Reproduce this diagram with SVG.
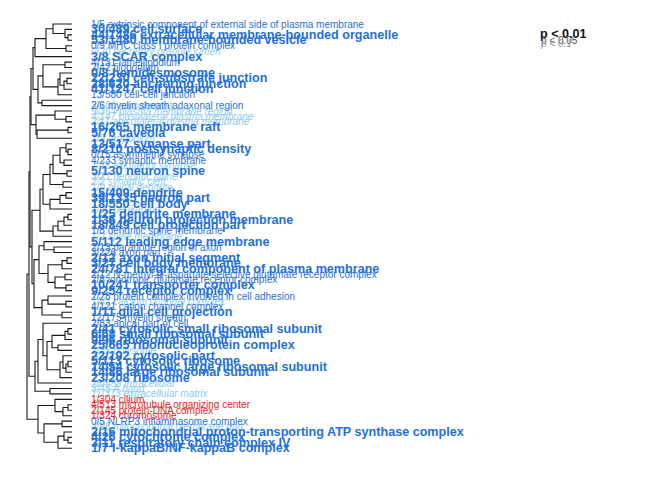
<svg xmlns="http://www.w3.org/2000/svg" width="672" height="480" viewBox="0 0 672 480">
<style>
text{font-family:"Liberation Sans",Arial,Helvetica,sans-serif;dominant-baseline:central}
.b{font-size:12.6px;font-weight:bold;fill:#1f70dc}
.r{font-size:10px;fill:#2c6fd8}
.i{font-size:10px;font-style:italic;fill:#8ccbee}
.red{font-size:10px;fill:#f0222a}
.lg1{font-size:12.6px;font-weight:bold;fill:#111;dominant-baseline:auto}
.lg2{font-size:10px;fill:#555;dominant-baseline:auto}
.lg3{font-size:10px;font-style:italic;fill:#999;dominant-baseline:auto}
#connectors path{fill:none;stroke:#1a1a1a;stroke-width:1.1}
</style>
<rect width="672" height="480" fill="#fff"/>
<g id="connectors">
<path d="M72 34.9H68V40.3H72"/>
<path d="M72 29.4H65V37.6H68"/>
<path d="M72 24H53V33.5H65"/>
<path d="M72 45.8H66V51.2H72"/>
<path d="M53 28.75H46V48.5H66"/>
<path d="M46 38.6H35V56.6H72"/>
<path d="M72 62.1H65V67.5H72"/>
<path d="M72 78.4H67V83.8H72"/>
<path d="M67 81.1H64V89.3H72"/>
<path d="M72 73H60V85.2H64"/>
<path d="M60 79.1H58V94.7H72"/>
<path d="M65 64.8H43V86.9H58"/>
<path d="M72 100.2H42V105.6H72"/>
<path d="M43 75.85H38V102.9H42"/>
<path d="M72 116.5H66V121.9H72"/>
<path d="M72 111H55V119.2H66"/>
<path d="M72 127.4H68V132.8H72"/>
<path d="M68 130.1H37V138.2H72"/>
<path d="M55 115.1H36V134.15H37"/>
<path d="M72 149.1H68V154.6H72"/>
<path d="M72 143.7H66V151.85H68"/>
<path d="M72 160H64V165.4H72"/>
<path d="M66 147.8H60V162.7H64"/>
<path d="M72 170.9H67V176.3H72"/>
<path d="M60 155.25H53V173.6H67"/>
<path d="M72 181.8H63V187.2H72"/>
<path d="M53 164.4H50V184.5H63"/>
<path d="M72 192.6H66V198.1H72"/>
<path d="M66 195.35H60V203.5H72"/>
<path d="M60 199.4H50V209H72"/>
<path d="M50 174.45H43V204.2H50"/>
<path d="M72 214.4H68V219.8H72"/>
<path d="M68 217.1H64V225.3H72"/>
<path d="M64 221.2H58V230.7H72"/>
<path d="M58 225.95H53V236.2H72"/>
<path d="M43 189.3H40V231.1H53"/>
<path d="M72 247H54V252.5H72"/>
<path d="M72 241.6H44V249.75H54"/>
<path d="M72 257.9H67V263.4H72"/>
<path d="M67 260.65H62V268.8H72"/>
<path d="M72 274.2H65V279.7H72"/>
<path d="M72 285.1H66V290.6H72"/>
<path d="M65 276.95H55V287.85H66"/>
<path d="M62 264.7H48V282.4H55"/>
<path d="M44 245.7H39V273.55H48"/>
<path d="M72 301.4H66V306.9H72"/>
<path d="M72 296H48V304.15H66"/>
<path d="M72 312.3H62V317.8H72"/>
<path d="M48 300.1H42V315.05H62"/>
<path d="M39 259.6H34V307.6H42"/>
<path d="M40 210.2H32V283.6H34"/>
<path d="M72 328.6H68V334.1H72"/>
<path d="M68 331.35H65V339.5H72"/>
<path d="M72 361.3H68V366.7H72"/>
<path d="M68 364H66V372.2H72"/>
<path d="M72 355.8H63V368.1H66"/>
<path d="M63 361.95H60V377.6H72"/>
<path d="M72 345H58V350.4H72"/>
<path d="M65 335.4H52V347.7H58"/>
<path d="M52 341.55H47V369.8H60"/>
<path d="M72 323.2H43V355.7H47"/>
<path d="M43 339.45H38V383H72"/>
<path d="M72 388.5H50V393.9H72"/>
<path d="M38 361.2H35V391.2H50"/>
<path d="M72 404.8H68V410.2H72"/>
<path d="M68 407.5H63V415.7H72"/>
<path d="M72 399.4H55V411.6H63"/>
<path d="M72 437.4H68V442.9H72"/>
<path d="M72 432H64V440.15H68"/>
<path d="M64 436.1H58V448.3H72"/>
<path d="M72 421.1H62V426.6H72"/>
<path d="M62 423.85H44V442.2H58"/>
<path d="M55 405.5H38V433H44"/>
<path d="M35 47.6H33V89.4H38"/>
<path d="M33 68.5H31V124.6H36"/>
<path d="M31 96.55H30V246.9H32"/>
<path d="M30 171.7H29V376.2H35"/>
<path d="M29 273.95H27V419.25H38"/>
</g>
<g id="labels-italic">
<g id="leaf-5"><text class="i" x="91" y="51.2">0/20 secretory granule lumen</text></g>
<g id="leaf-14"><text class="i" x="91" y="105.6">3/100 sarcolemma</text></g>
<g id="leaf-16"><text class="i" x="91" y="111">9/364 plasma membrane region</text></g>
<g id="leaf-17"><text class="i" x="91" y="116.5">4/147 basolateral plasma membrane</text></g>
<g id="leaf-18"><text class="i" x="91" y="121.9">2/11 apicolateral plasma membrane</text></g>
<g id="leaf-21"><text class="i" x="91" y="138.2">1/9 uropodium</text></g>
<g id="leaf-26"><text class="i" x="91" y="165.4">1/45 excitatory synapse</text></g>
<g id="leaf-28"><text class="i" x="91" y="176.3">3/21 dendritic spine</text></g>
<g id="leaf-29"><text class="i" x="91" y="181.8">2/2 synaptic cleft</text></g>
<g id="leaf-30"><text class="i" x="91" y="187.2">1/9 apical dendrite</text></g>
<g id="leaf-34"><text class="i" x="91" y="209">1/20 perikaryon</text></g>
<g id="leaf-39"><text class="i" x="91" y="236.2">1/2 spine membrane</text></g>
<g id="leaf-51"><text class="i" x="91" y="301.4">1/61 calcium channel complex</text></g>
<g id="leaf-60"><text class="i" x="91" y="350.4">2/35 polysome</text></g>
<g id="leaf-66"><text class="i" x="91" y="383">28/659 intracellular</text></g>
<g id="leaf-67"><text class="i" x="91" y="388.5">3/45 A band</text></g>
<g id="leaf-68"><text class="i" x="91" y="393.9">11/373 extracellular matrix</text></g>
<g id="leaf-74"><text class="i" x="91" y="426.6">4/95 mitochondrial membrane part</text></g>
</g>
<g id="labels-regular">
<g id="leaf-0"><text class="r" x="91" y="24">1/5 extrinsic component of external side of plasma membrane</text></g>
<g id="leaf-4"><text class="r" x="91" y="45.8">0/9 MHC class I protein complex</text></g>
<g id="leaf-7"><text class="r" x="91" y="62.1">4/131 lamellipodium</text></g>
<g id="leaf-8"><text class="r" x="91" y="67.5">2/42 filopodium</text></g>
<g id="leaf-13"><text class="r" x="91" y="94.7">13/580 cell-cell junction</text></g>
<g id="leaf-15"><text class="r" x="91" y="105.6" dy="0">2/6 myelin sheath adaxonal region</text></g>
<g id="leaf-24"><text class="r" x="91" y="154.6">0/15 asymmetric synapse</text></g>
<g id="leaf-25"><text class="r" x="91" y="160">4/233 synaptic membrane</text></g>
<g id="leaf-38"><text class="r" x="91" y="230.7">1/8 dendritic spine membrane</text></g>
<g id="leaf-41"><text class="r" x="91" y="247">2/13 paranode region of axon</text></g>
<g id="leaf-42"><text class="r" x="91" y="252.5">3/226 axon part</text></g>
<g id="leaf-46"><text class="r" x="91" y="274.2">2/12 N-methyl-D-aspartate selective glutamate receptor complex</text></g>
<g id="leaf-47"><text class="r" x="91" y="279.7">2/8 ionotropic glutamate receptor complex</text></g>
<g id="leaf-50"><text class="r" x="91" y="296">2/28 protein complex involved in cell adhesion</text></g>
<g id="leaf-52"><text class="r" x="91" y="306.9">4/121 cation channel complex</text></g>
<g id="leaf-54"><text class="r" x="91" y="317.8">12/175 myelin sheath</text></g>
<g id="leaf-55"><text class="r" x="91" y="323.2">2/83 apical part of cell</text></g>
<g id="leaf-69"><text class="red" x="91" y="399.4">1/304 cilium</text></g>
<g id="leaf-70"><text class="red" x="91" y="404.8">4/513 microtubule organizing center</text></g>
<g id="leaf-71"><text class="red" x="91" y="410.2">2/145 protein-DNA complex</text></g>
<g id="leaf-72"><text class="red" x="91" y="415.7">1/324 chromosome</text></g>
<g id="leaf-73"><text class="r" x="91" y="421.1">0/5 NLRP3 inflammasome complex</text></g>
</g>
<g id="labels-bold">
<g id="leaf-1"><text class="b" x="91" y="29.4">30/489 cell surface</text></g>
<g id="leaf-2"><text class="b" x="91" y="34.9">44/1486 extracellular membrane-bounded organelle</text></g>
<g id="leaf-3"><text class="b" x="91" y="40.3">53/1480 membrane-bounded vesicle</text></g>
<g id="leaf-6"><text class="b" x="91" y="56.6">3/8 SCAR complex</text></g>
<g id="leaf-9"><text class="b" x="91" y="73">0/8 hemidesmosome</text></g>
<g id="leaf-10"><text class="b" x="91" y="78.4">22/230 cell-substrate junction</text></g>
<g id="leaf-11"><text class="b" x="91" y="83.8">28/620 anchoring junction</text></g>
<g id="leaf-12"><text class="b" x="91" y="89.3">41/1247 cell junction</text></g>
<g id="leaf-19"><text class="b" x="91" y="127.4">16/265 membrane raft</text></g>
<g id="leaf-20"><text class="b" x="91" y="132.8">5/76 caveola</text></g>
<g id="leaf-22"><text class="b" x="91" y="143.7">13/517 synapse part</text></g>
<g id="leaf-23"><text class="b" x="91" y="149.1">8/210 postsynaptic density</text></g>
<g id="leaf-27"><text class="b" x="91" y="170.9">5/130 neuron spine</text></g>
<g id="leaf-31"><text class="b" x="91" y="192.6">15/409 dendrite</text></g>
<g id="leaf-32"><text class="b" x="91" y="198.1">39/1335 neuron part</text></g>
<g id="leaf-33"><text class="b" x="91" y="203.5">18/550 cell body</text></g>
<g id="leaf-35"><text class="b" x="91" y="214.4">1/25 dendrite membrane</text></g>
<g id="leaf-36"><text class="b" x="91" y="219.8">1/36 neuron projection membrane</text></g>
<g id="leaf-37"><text class="b" x="91" y="225.3">18/849 cell projection part</text></g>
<g id="leaf-40"><text class="b" x="91" y="241.6">5/112 leading edge membrane</text></g>
<g id="leaf-43"><text class="b" x="91" y="257.9">2/12 axon initial segment</text></g>
<g id="leaf-44"><text class="b" x="91" y="263.4">3/27 cell body membrane</text></g>
<g id="leaf-45"><text class="b" x="91" y="268.8">24/781 integral component of plasma membrane</text></g>
<g id="leaf-48"><text class="b" x="91" y="285.1">10/241 transporter complex</text></g>
<g id="leaf-49"><text class="b" x="91" y="290.6">9/254 receptor complex</text></g>
<g id="leaf-53"><text class="b" x="91" y="312.3">1/11 glial cell projection</text></g>
<g id="leaf-56"><text class="b" x="91" y="328.6">2/41 cytosolic small ribosomal subunit</text></g>
<g id="leaf-57"><text class="b" x="91" y="334.1">6/68 small ribosomal subunit</text></g>
<g id="leaf-58"><text class="b" x="91" y="339.5">9/96 ribosomal subunit</text></g>
<g id="leaf-59"><text class="b" x="91" y="345">25/665 ribonucleoprotein complex</text></g>
<g id="leaf-61"><text class="b" x="91" y="355.8">22/192 cytosolic part</text></g>
<g id="leaf-62"><text class="b" x="91" y="361.3">5/113 cytosolic ribosome</text></g>
<g id="leaf-63"><text class="b" x="91" y="366.7">14/54 cytosolic large ribosomal subunit</text></g>
<g id="leaf-64"><text class="b" x="91" y="372.2">14/86 large ribosomal subunit</text></g>
<g id="leaf-65"><text class="b" x="91" y="377.6">23/208 ribosome</text></g>
<g id="leaf-75"><text class="b" x="91" y="432">2/16 mitochondrial proton-transporting ATP synthase complex</text></g>
<g id="leaf-76"><text class="b" x="91" y="437.4">4/26 cytochrome complex</text></g>
<g id="leaf-77"><text class="b" x="91" y="442.9">3/11 respiratory chain complex IV</text></g>
<g id="leaf-78"><text class="b" x="91" y="448.3">1/7 I-kappaB/NF-kappaB complex</text></g>
</g>
<g id="legend">
<text class="lg1" x="540" y="38">p &lt; 0.01</text>
<text class="lg2" x="541" y="43.5">p &lt; 0.05</text>
<text class="lg3" x="541" y="47">p &lt; 0.1</text>
</g>
</svg>
